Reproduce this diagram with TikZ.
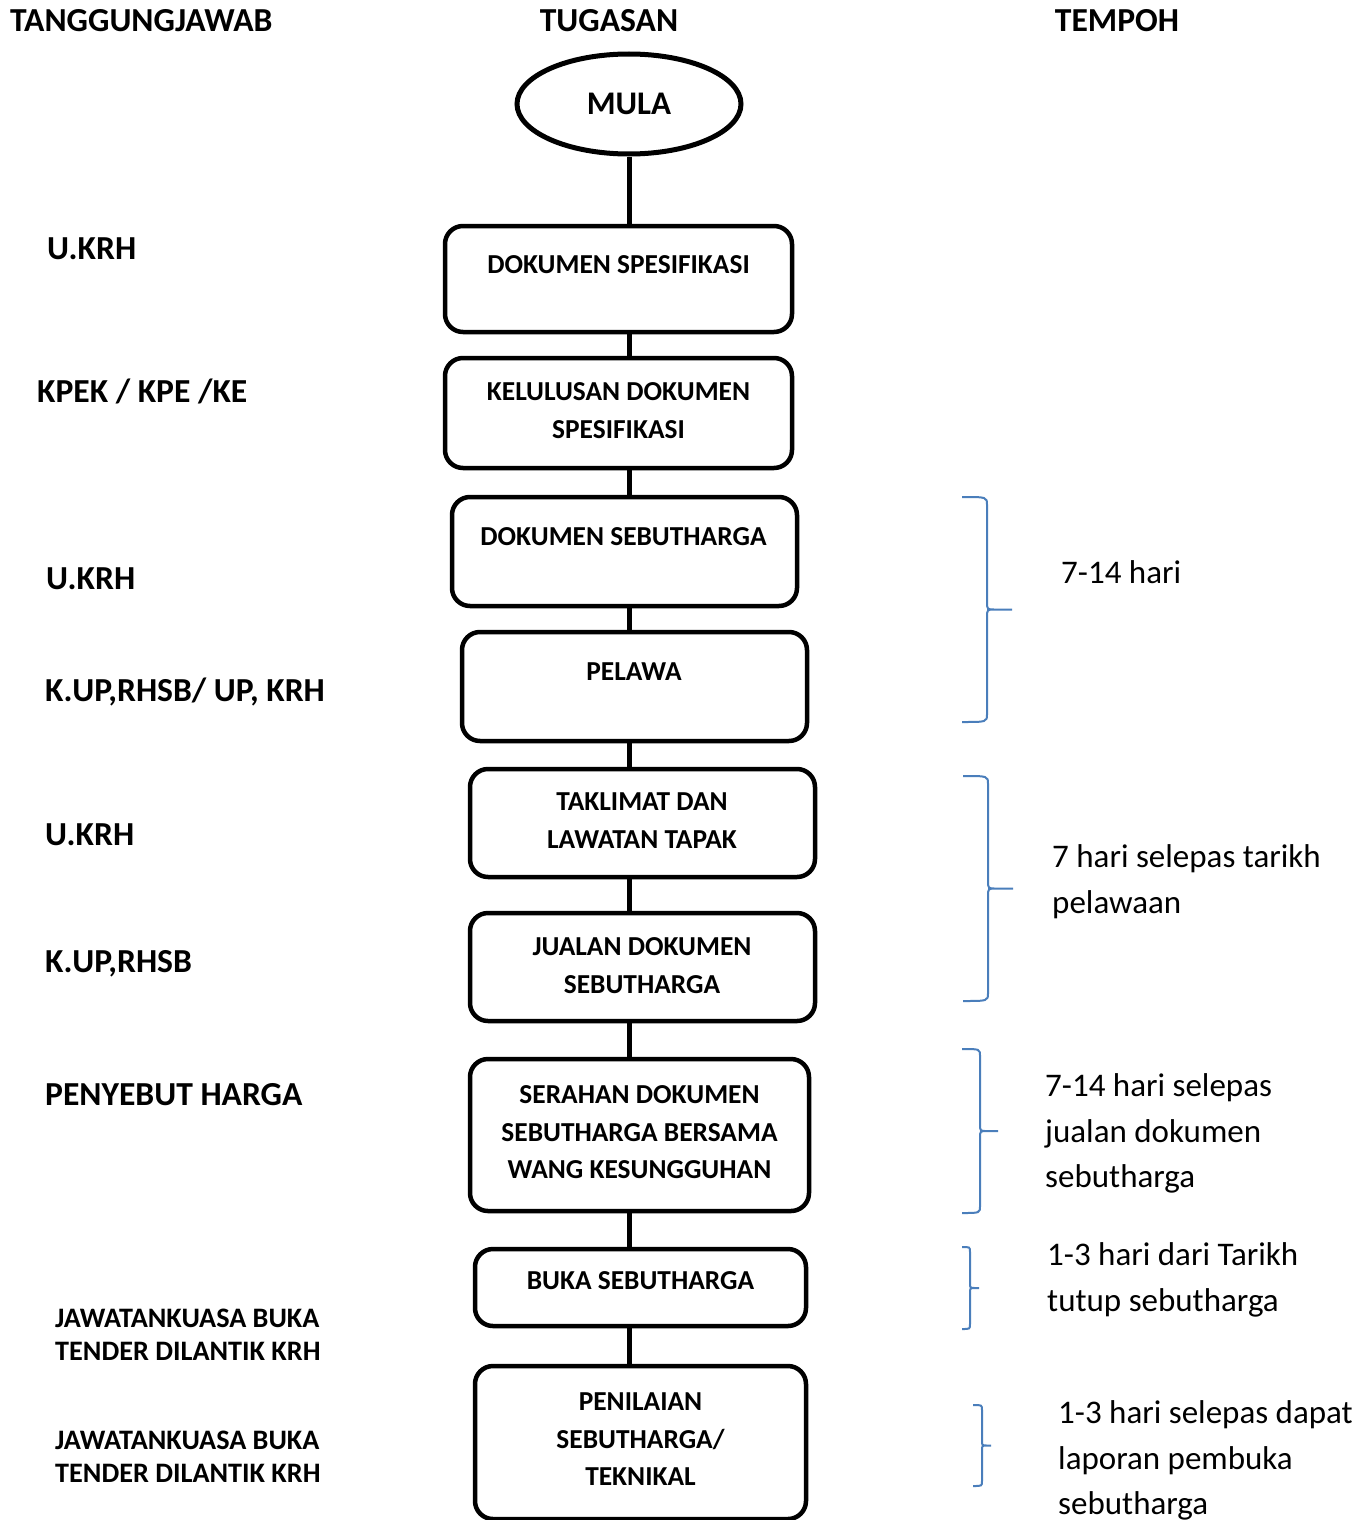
\documentclass[tikz,border=0pt]{standalone}
\usepackage{fontspec}
\setmainfont{Carlito}
\usetikzlibrary{shapes.geometric}
\definecolor{bracecol}{RGB}{74,126,187}
% right-hand curly brace: left end x, spine x, tip x, top y, bottom y, hook size
\newcommand\tbrace[6]{%
  \draw[brace] (#1,#4) .. controls (#2,#4) .. (#2,#4+#6)
    -- (#2,{(#4+#5)/2-#6}) .. controls (#2,{(#4+#5)/2}) .. (#2+#6,{(#4+#5)/2})
    -- (#3,{(#4+#5)/2})
    (#2+#6,{(#4+#5)/2}) .. controls (#2,{(#4+#5)/2}) .. (#2,{(#4+#5)/2+#6})
    -- (#2,#5-#6) .. controls (#2,#5) .. (#1,#5);}
\newcommand\lines[2]{\begin{tabular}[t]{@{}#1@{}}#2\end{tabular}}
\begin{document}
\begin{tikzpicture}[x=1pt,y=-1pt,
  stepbox/.style={draw, line width=4.5pt, rounded corners=18pt, inner sep=0pt},
  startbox/.style={draw, ellipse, line width=5pt, inner sep=0pt,
    font=\bfseries\fontsize{33}{40}\selectfont},
  boxtext/.style={font=\bfseries\fontsize{27.4}{37.5}\selectfont, inner sep=0pt, anchor=base},
  head/.style={font=\bfseries\fontsize{33.6}{40}\selectfont, inner sep=0pt, anchor=base},
  who/.style={font=\bfseries\fontsize{33.6}{40}\selectfont, inner sep=0pt, anchor=base west},
  whosmall/.style={font=\bfseries\fontsize{28.2}{33}\selectfont, inner sep=0pt, anchor=base west},
  period/.style={font=\fontsize{33}{45.5}\selectfont, inner sep=0pt, anchor=base west},
  link/.style={line width=5pt},
  brace/.style={draw=bracecol, line width=2pt}
]
\useasboundingbox (0,0) rectangle (1370,1520);

% column headings
\node[head, anchor=base west] (hwho) at (10,31.5) {TANGGUNGJAWAB};
\node[head] (htask) at (609,31.5) {TUGASAN};
\node[head] (htime) at (1117,31.5) {TEMPOH};

% flow of tasks
\node[startbox, minimum width=224pt, minimum height=100pt] (mula) at (629,104) {MULA};
\node[stepbox, minimum width=347pt, minimum height=106pt] (b1) at (618.5,279) {};
\node[stepbox, minimum width=347pt, minimum height=110pt] (b2) at (618.5,413) {};
\node[stepbox, minimum width=345pt, minimum height=109pt] (b3) at (624.5,551.5) {};
\node[stepbox, minimum width=345pt, minimum height=109pt] (b4) at (634.5,686.5) {};
\node[stepbox, minimum width=345pt, minimum height=108pt] (b5) at (642.5,823) {};
\node[stepbox, minimum width=345pt, minimum height=108pt] (b6) at (642.5,967) {};
\node[stepbox, minimum width=339pt, minimum height=152pt] (b7) at (639.5,1135) {};
\node[stepbox, minimum width=331pt, minimum height=77pt] (b8) at (640.5,1287.5) {};
\node[stepbox, minimum width=331pt, minimum height=153pt] (b9) at (640.5,1442.5) {};

\node[boxtext] (t1) at (618.5,273.7) {DOKUMEN SPESIFIKASI};
\node[boxtext] (t2) at (618.5,400.7) {\lines{c}{KELULUSAN DOKUMEN\\ SPESIFIKASI}};
\node[boxtext] (t3) at (623.5,545.7) {DOKUMEN SEBUTHARGA};
\node[boxtext] (t4) at (634,680.7) {PELAWA};
\node[boxtext] (t5) at (642,810.7) {\lines{c}{TAKLIMAT DAN\\ LAWATAN TAPAK}};
\node[boxtext] (t6) at (642,955.7) {\lines{c}{JUALAN DOKUMEN\\ SEBUTHARGA}};
\node[boxtext] (t7) at (639.5,1103.7) {\lines{c}{SERAHAN DOKUMEN\\ SEBUTHARGA BERSAMA\\ WANG KESUNGGUHAN}};
\node[boxtext] (t8) at (640.5,1289.7) {BUKA SEBUTHARGA};
\node[boxtext] (t9) at (640.5,1410.7) {\lines{c}{PENILAIAN\\ SEBUTHARGA/\\ TEKNIKAL}};

\draw[link] (mula.south) -- (b1.north -| mula.south);
\draw[link] (b1.south -| mula.south) -- (b2.north -| mula.south);
\draw[link] (b2.south -| mula.south) -- (b3.north -| mula.south);
\draw[link] (b3.south -| mula.south) -- (b4.north -| mula.south);
\draw[link] (b4.south -| mula.south) -- (b5.north -| mula.south);
\draw[link] (b5.south -| mula.south) -- (b6.north -| mula.south);
\draw[link] (b6.south -| mula.south) -- (b7.north -| mula.south);
\draw[link] (b7.south -| mula.south) -- (b8.north -| mula.south);
\draw[link] (b8.south -| mula.south) -- (b9.north -| mula.south);

% responsibilities
\node[who] (w1) at (47,259.5) {U.KRH};
\node[who] (w2) at (37,402.5) {KPEK / KPE /KE};
\node[who] (w3) at (46,589.5) {U.KRH};
\node[who] (w4) at (45,701.5) {K.UP,RHSB/ UP, KRH};
\node[who] (w5) at (45,845.5) {U.KRH};
\node[who] (w6) at (45,972.5) {K.UP,RHSB};
\node[who] (w7) at (45,1105.5) {PENYEBUT HARGA};
\node[whosmall] (w8) at (55,1327.7) {\lines{l}{JAWATANKUASA BUKA\\ TENDER DILANTIK KRH}};
\node[whosmall] (w9) at (55,1449.7) {\lines{l}{JAWATANKUASA BUKA\\ TENDER DILANTIK KRH}};

% durations
\tbrace{962}{987}{1012}{497}{722}{8}
\tbrace{963}{988}{1013}{776}{1001}{8}
\tbrace{962}{980}{998}{1049}{1213}{7}
\tbrace{962}{970}{979}{1247}{1329}{5}
\tbrace{973}{982}{991}{1405}{1486}{5}

\node[period] (p1) at (1061,583.6) {7-14 hari};
\node[period] (p2) at (1052,867.6) {\lines{l}{7 hari selepas tarikh\\ pelawaan}};
\node[period] (p3) at (1045,1096.6) {\lines{l}{7-14 hari selepas\\ jualan dokumen\\ sebutharga}};
\node[period] (p4) at (1047,1265.6) {\lines{l}{1-3 hari dari Tarikh\\ tutup sebutharga}};
\node[period] (p5) at (1058,1423.6) {\lines{l}{1-3 hari selepas dapat\\ laporan pembuka\\ sebutharga}};
\end{tikzpicture}
\end{document}
